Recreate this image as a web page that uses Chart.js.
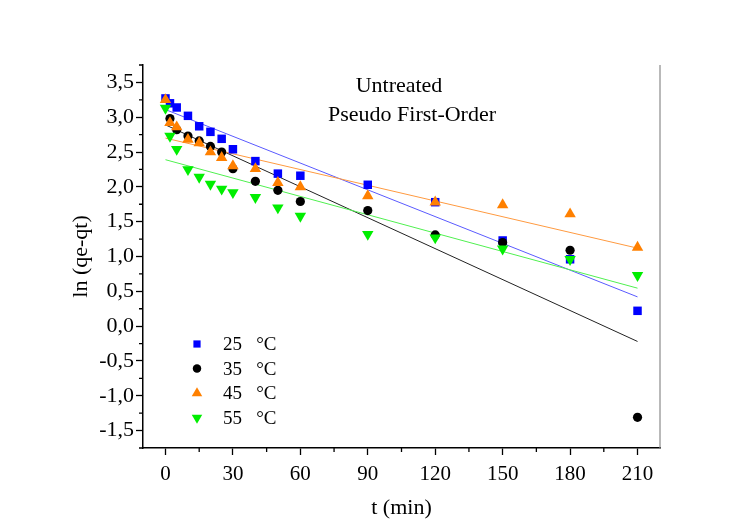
<!DOCTYPE html>
<html>
<head>
<meta charset="utf-8">
<script src="https://cdn.jsdelivr.net/npm/chart.js@4.4.0/dist/chart.umd.min.js"></script>
<style>
  html, body { margin: 0; padding: 0; background: #fff; }
</style>
</head>
<body>
<canvas id="chart" width="748" height="531"></canvas>
<script>
// sampling times (min)
const times = [0, 2, 5, 10, 15, 20, 25, 30, 40, 50, 60, 90, 120, 150, 180, 210];

// ln(qe-qt)
const ln25 = [3.27, 3.20, 3.14, 3.02, 2.87, 2.79, 2.69, 2.54, 2.37, 2.19, 2.16, 2.03, 1.78, 1.23, 0.96, 0.22];
const ln35 = [null, 2.98, 2.82, 2.73, 2.66, 2.58, 2.50, 2.26, 2.08, 1.95, 1.79, 1.66, 1.31, 1.20, 1.09, -1.31];
const ln45 = [3.25, 2.92, 2.86, 2.68, 2.63, 2.50, 2.42, 2.30, 2.26, 2.06, 2.00, 1.87, 1.78, 1.74, 1.61, 1.13];
const ln55 = [3.13, 2.73, 2.54, 2.25, 2.14, 2.04, 1.97, 1.92, 1.85, 1.70, 1.58, 1.32, 1.27, 1.11, 0.96, 0.73];

// fitted lines, end points
const fitX = [0, 210];
const fit25 = [3.11, 0.42];
const fit35 = [2.89, -0.22];
const fit45 = [2.70, 1.12];
const fit55 = [2.39, 0.545];

const seriesLabels = ["25   \u00B0C", "35   \u00B0C", "45   \u00B0C", "55   \u00B0C"];

const xTicks = [0, 30, 60, 90, 120, 150, 180, 210];
const xMinor = [15, 45, 75, 105, 135, 165, 195];
const yTicks = [-1.5, -1.0, -0.5, 0.0, 0.5, 1.0, 1.5, 2.0, 2.5, 3.0, 3.5];
const yMinor = [-1.75, -1.25, -0.75, -0.25, 0.25, 0.75, 1.25, 1.75, 2.25, 2.75, 3.25, 3.75];

const titleLines = ["Untreated", "Pseudo First-Order"];

const SERIF = '"Liberation Serif", "Times New Roman", serif';

function toPoints(xs, ys) {
  const pts = [];
  xs.forEach((x, i) => {
    if (ys[i] !== null) pts.push({ x: x, y: ys[i] });
  });
  return pts;
}

function markerSet(label, ys, style, color, radius, rotation, order) {
  return {
    label: label,
    data: toPoints(times, ys),
    pointStyle: style,
    pointRadius: radius,
    pointRotation: rotation,
    backgroundColor: color,
    borderColor: color,
    borderWidth: 0,
    showLine: false,
    order: order
  };
}

function fitSet(ys, color, order) {
  return {
    label: "fit",
    data: toPoints(fitX, ys),
    showLine: true,
    pointRadius: 0,
    borderColor: color,
    borderWidth: 1,
    fill: false,
    order: order
  };
}

const datasets = [
  markerSet(seriesLabels[0], ln25, "rect", "#0000ff", 6, 0, 4),
  markerSet(seriesLabels[1], ln35, "circle", "#000000", 4.6, 0, 3),
  markerSet(seriesLabels[2], ln45, "triangle", "#ff8000", 6.6, 0, 2),
  markerSet(seriesLabels[3], ln55, "triangle", "#00ee00", 6.6, 180, 1),
  fitSet(fit25, "#5a5aff", 8),
  fitSet(fit35, "#222222", 7),
  fitSet(fit45, "#ff9a40", 6),
  fitSet(fit55, "#50f050", 5)
];

// small markers drawn in the in-plot legend
function drawMarker(ctx, style, rot, x, y, r, color) {
  ctx.save();
  ctx.fillStyle = color;
  ctx.beginPath();
  if (style === "rect") {
    const s = r * Math.SQRT1_2;
    ctx.rect(x - s, y - s, 2 * s, 2 * s);
  } else if (style === "circle") {
    ctx.arc(x, y, r, 0, Math.PI * 2);
  } else {
    let a = rot * Math.PI / 180;
    ctx.moveTo(x + Math.sin(a) * r, y - Math.cos(a) * r);
    a += 2 * Math.PI / 3;
    ctx.lineTo(x + Math.sin(a) * r, y - Math.cos(a) * r);
    a += 2 * Math.PI / 3;
    ctx.lineTo(x + Math.sin(a) * r, y - Math.cos(a) * r);
    ctx.closePath();
  }
  ctx.fill();
  ctx.restore();
}

const extras = {
  id: "extras",
  afterDraw(chart) {
    const ctx = chart.ctx;
    const area = chart.chartArea;
    const xs = chart.scales.x;
    const ys = chart.scales.y;

    ctx.save();
    // right frame line
    ctx.strokeStyle = "#8a8a8a";
    ctx.lineWidth = 1.2;
    ctx.beginPath();
    ctx.moveTo(area.right, area.top);
    ctx.lineTo(area.right, area.bottom);
    ctx.stroke();

    // minor ticks
    ctx.strokeStyle = "#000";
    ctx.lineWidth = 1.3;
    ctx.beginPath();
    xMinor.forEach(v => {
      const px = xs.getPixelForValue(v);
      ctx.moveTo(px, area.bottom);
      ctx.lineTo(px, area.bottom + 4);
    });
    yMinor.forEach(v => {
      const py = ys.getPixelForValue(v);
      ctx.moveTo(area.left, py);
      ctx.lineTo(area.left - 4, py);
    });
    ctx.stroke();

    // annotation
    ctx.fillStyle = "#000";
    ctx.font = "22px " + SERIF;
    ctx.textAlign = "center";
    ctx.textBaseline = "alphabetic";
    ctx.fillText(titleLines[0], 399, 92);
    ctx.fillText(titleLines[1], 412, 121);

    // legend
    ctx.font = "19px " + SERIF;
    ctx.textAlign = "left";
    ctx.textBaseline = "middle";
    for (let i = 0; i < 4; i++) {
      const ds = chart.data.datasets[i];
      const y = 344 + i * 24.6;
      const k = ds.pointStyle === "rect" ? 0.85 : 0.92;
      drawMarker(ctx, ds.pointStyle, ds.pointRotation, 197, y, ds.pointRadius * k, ds.backgroundColor);
      ctx.fillText(ds.label, 223, y + 1);
    }
    ctx.restore();
  }
};

new Chart(document.getElementById("chart"), {
  type: "scatter",
  data: { datasets: datasets },
  plugins: [extras],
  options: {
    responsive: false,
    animation: false,
    events: [],
    layout: { padding: { left: 0, top: 65, right: 88, bottom: 0 } },
    plugins: {
      legend: { display: false },
      tooltip: { enabled: false },
      title: { display: false }
    },
    scales: {
      x: {
        type: "linear",
        min: -10,
        max: 220,
        afterBuildTicks: axis => { axis.ticks = xTicks.map(v => ({ value: v })); },
        afterFit: axis => { axis.height = 83; },
        grid: { drawOnChartArea: false, drawTicks: true, tickLength: 7, tickWidth: 1.3, tickColor: "#000" },
        border: { display: true, color: "#000", width: 1.5 },
        ticks: {
          color: "#000",
          font: { family: SERIF, size: 21 },
          padding: 7,
          maxRotation: 0,
          callback: v => String(v)
        },
        title: {
          display: true,
          text: "t (min)",
          color: "#000",
          font: { family: SERIF, size: 22 },
          padding: { top: 0, bottom: 10 }
        }
      },
      y: {
        type: "linear",
        min: -1.75,
        max: 3.75,
        afterBuildTicks: axis => { axis.ticks = yTicks.map(v => ({ value: v })); },
        afterFit: axis => { axis.width = 143; },
        grid: { drawOnChartArea: false, drawTicks: true, tickLength: 7, tickWidth: 1.3, tickColor: "#000" },
        border: { display: true, color: "#000", width: 1.5 },
        ticks: {
          color: "#000",
          font: { family: SERIF, size: 22 },
          padding: 2,
          callback: v => v.toFixed(1).replace(".", ",")
        },
        title: {
          display: true,
          text: "ln (qe-qt)",
          color: "#000",
          font: { family: SERIF, size: 22 },
          padding: { top: 68, bottom: 0 }
        }
      }
    }
  }
});
</script>
</body>
</html>
